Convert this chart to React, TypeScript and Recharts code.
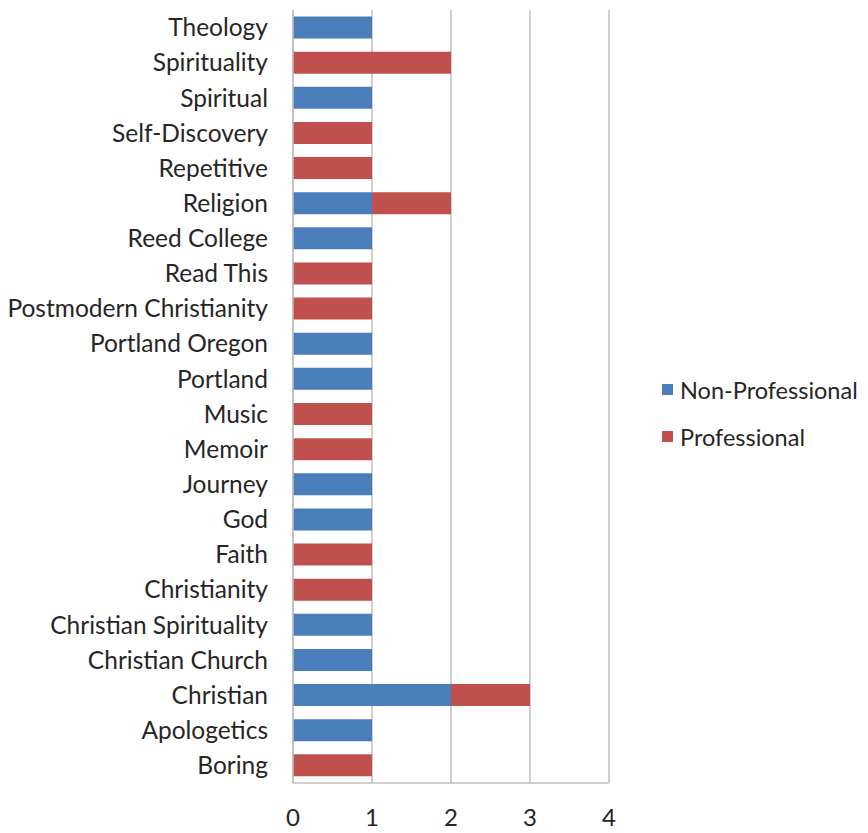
import React from 'react';
import { BarChart, Bar, XAxis, YAxis, CartesianGrid, Legend } from 'recharts';

const categories = [
  'Theology', 'Spirituality', 'Spiritual', 'Self-Discovery', 'Repetitive', 'Religion',
  'Reed College', 'Read This', 'Postmodern Christianity', 'Portland Oregon', 'Portland',
  'Music', 'Memoir', 'Journey', 'God', 'Faith', 'Christianity', 'Christian Spirituality',
  'Christian Church', 'Christian', 'Apologetics', 'Boring',
];
const nonProfessional = [1, 0, 1, 0, 0, 1, 1, 0, 0, 1, 1, 0, 0, 1, 1, 0, 0, 1, 1, 2, 1, 0];
const professional = [0, 2, 0, 1, 1, 1, 0, 1, 1, 0, 0, 1, 1, 0, 0, 1, 1, 0, 0, 1, 0, 1];
const xTicks = [0, 1, 2, 3, 4];

const data = categories.map((name, i) => ({
  name,
  nonPro: nonProfessional[i],
  pro: professional[i],
}));

const FONT = 'Lato, "Open Sans", sans-serif';
const BLUE = '#4a7ebb';
const RED = '#c0504d';
const TEXT = '#262626';

const LegendContent = () => (
  <div style={{ fontFamily: FONT, fontSize: 23.5, color: TEXT, whiteSpace: 'nowrap' }}>
    {[
      { label: 'Non-Professional', color: BLUE },
      { label: 'Professional', color: RED },
    ].map((it) => (
      <div key={it.label} style={{ display: 'flex', alignItems: 'center', height: 47 }}>
        <span style={{ width: 11, height: 11, background: it.color, display: 'inline-block', marginRight: 7 }} />
        <span>{it.label}</span>
      </div>
    ))}
  </div>
);

export default function App() {
  return (
    <BarChart
      width={852}
      height={825}
      data={data}
      layout="vertical"
      margin={{ top: 2, right: 251, left: 0, bottom: 0 }}
      barCategoryGap="18.5%"
    >
      <CartesianGrid horizontal={false} vertical={true} stroke="#bfbfbf" strokeWidth={1.5} />
      <XAxis
        type="number"
        domain={[0, 4]}
        ticks={xTicks}
        height={50}
        tickLine={false}
        axisLine={{ stroke: '#bfbfbf', strokeWidth: 1.5 }}
        tick={{ fontFamily: FONT, fontSize: 24, fill: TEXT }}
        tickMargin={20}
      />
      <YAxis
        type="category"
        dataKey="name"
        width={285}
        tickLine={false}
        tickSize={0}
        tickMargin={25}
        interval={0}
        axisLine={{ stroke: '#bfbfbf', strokeWidth: 1.5 }}
        tick={{ fontFamily: FONT, fontSize: 24.5, fill: TEXT }}
      />
      <Legend
        layout="vertical"
        align="center"
        verticalAlign="middle"
        content={<LegendContent />}
        wrapperStyle={{ left: 654, top: 358, width: 205 }}
      />
      <Bar dataKey="nonPro" name="Non-Professional" stackId="a" fill={BLUE} isAnimationActive={false} />
      <Bar dataKey="pro" name="Professional" stackId="a" fill={RED} isAnimationActive={false} />
    </BarChart>
  );
}
